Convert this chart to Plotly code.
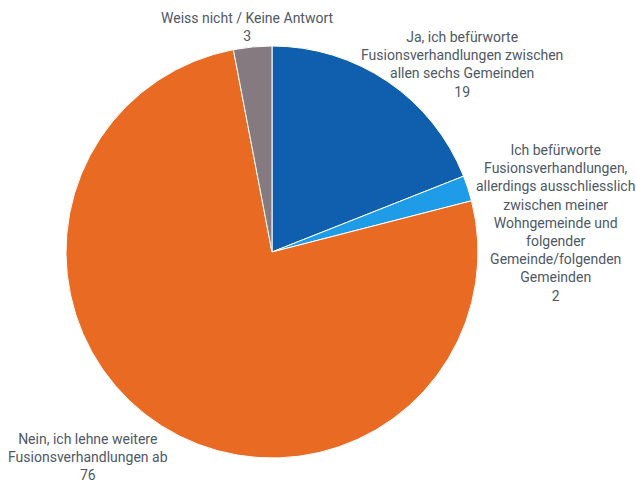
import plotly.graph_objects as go

# Survey answers (share of respondents)
labels = [
    "Ja, ich befürworte Fusionsverhandlungen zwischen allen sechs Gemeinden",
    "Ich befürworte Fusionsverhandlungen, allerdings ausschliesslich zwischen meiner Wohngemeinde und folgender Gemeinde/folgenden Gemeinden",
    "Nein, ich lehne weitere Fusionsverhandlungen ab",
    "Weiss nicht / Keine Antwort",
]
values = [19, 2, 76, 3]
label_lines = [
    ["Ja, ich befürworte", "Fusionsverhandlungen zwischen", "allen sechs Gemeinden"],
    ["Ich befürworte", "Fusionsverhandlungen,", "allerdings ausschliesslich", "zwischen meiner",
     "Wohngemeinde und", "folgender", "Gemeinde/folgenden", "Gemeinden"],
    ["Nein, ich lehne weitere", "Fusionsverhandlungen ab"],
    ["Weiss nicht / Keine Antwort"],
]
colors = ["#0f5fae", "#1f9ce8", "#e86a23", "#857a7f"]

W, H = 636, 484
# label anchor (centre x, top y) in pixels
label_pos = [(462, 27), (555, 140), (88, 429), (247, 8)]

fig = go.Figure(go.Pie(
    labels=labels,
    values=values,
    sort=False,
    direction="clockwise",
    rotation=0,
    marker=dict(colors=colors, line=dict(color="white", width=1)),
    textinfo="none",
    hoverinfo="label+value",
    showlegend=False,
    domain=dict(x=[(272 - 206) / W, (272 + 206) / W],
                y=[(H - 252 - 206) / H, (H - 252 + 206) / H]),
))

for lines, v, (cx, ty) in zip(label_lines, values, label_pos):
    fig.add_annotation(
        x=cx / W, y=1 - ty / H, xref="paper", yref="paper",
        xanchor="center", yanchor="top", showarrow=False, align="center",
        text="<br>".join(lines + [str(v)]),
        font=dict(family="Roboto", size=14, color="#4e5866"),
    )

fig.update_layout(
    width=W, height=H,
    margin=dict(l=0, r=0, t=0, b=0),
    paper_bgcolor="white", plot_bgcolor="white",
)
fig.write_html("out.html")
